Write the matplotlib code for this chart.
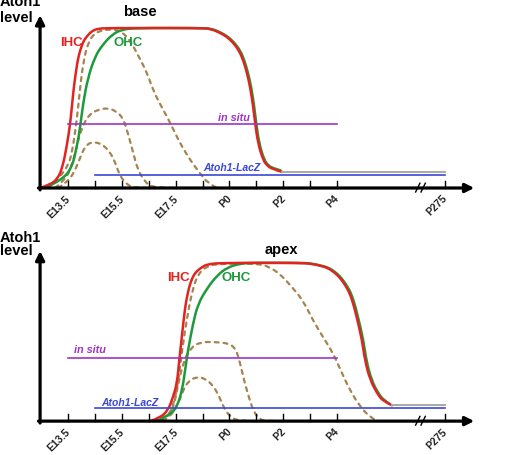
import matplotlib.pyplot as plt
from matplotlib.path import Path
from matplotlib.patches import PathPatch

plt.rcParams['font.family'] = ['Liberation Sans', 'DejaVu Sans']

# x in days from E13.5 (P275 drawn at 14 after the axis break), y = relative Atoh1 level
tick_pos = [0, 1, 2, 3, 4, 5, 6, 7, 8, 9, 10, 14]
tick_labels = {0: "E13.5", 2: "E15.5", 4: "E17.5", 6: "P0", 8: "P2", 10: "P4", 14: "P275"}

insitu_x = [0, 10]
insitu_y = [0.40, 0.40]
lacz_x = [1, 14]
lacz_y = [0.08, 0.08]

# ---- base ----
base_ihc_x = [-1.04, -0.67, -0.37, -0.19, -0.04, 0.07, 0.15, 0.22, 0.33, 0.40, 0.48, 0.58, 0.71,
              0.85, 1.0, 1.15, 1.38, 4.91, 5.3, 5.65, 5.9, 6.13, 6.35, 6.51, 6.65, 6.77, 6.88,
              6.95, 7.06, 7.25, 7.4, 7.58, 7.96]
base_ihc_y = [0, 0.02, 0.06, 0.14, 0.27, 0.39, 0.52, 0.64, 0.77, 0.83, 0.875, 0.92, 0.95,
              0.975, 0.99, 0.995, 1.0, 1.0, 0.995, 0.97, 0.945, 0.91, 0.86, 0.80, 0.72, 0.63, 0.51,
              0.41, 0.28, 0.175, 0.14, 0.12, 0.10]
base_ohc_x = [-0.86, -0.22, 0.15, 0.33, 0.45, 0.56, 0.74, 1.0, 1.26, 1.64, 2.0, 2.49,
              5.0, 5.35, 5.7, 5.95, 6.17, 6.4, 6.55, 6.69, 6.81, 6.92, 6.99, 7.10, 7.29, 7.45,
              7.6, 7.9]
base_ohc_y = [0, 0.05, 0.13, 0.26, 0.38, 0.53, 0.69, 0.82, 0.89, 0.96, 0.99, 1.0,
              1.0, 0.995, 0.97, 0.945, 0.91, 0.86, 0.80, 0.72, 0.63, 0.51, 0.41, 0.28, 0.175,
              0.14, 0.125, 0.11]
base_grey_x = [7.96, 14]
base_grey_y = [0.10, 0.10]
base_dash_big_x = [-0.74, -0.30, 0.0, 0.15, 0.33, 0.45, 0.56, 0.74, 1.0, 1.38, 1.75, 2.0, 2.30,
                   2.57, 2.94, 3.16, 3.53, 3.79, 4.16, 4.54, 4.91, 5.2, 5.54]
base_dash_big_y = [0, 0.07, 0.14, 0.22, 0.43, 0.63, 0.78, 0.91, 0.97, 0.99, 0.99, 0.975, 0.925,
                   0.84, 0.72, 0.61, 0.49, 0.41, 0.28, 0.175, 0.09, 0.03, 0.0]
base_dash_mid_x = [-0.48, -0.11, 0.15, 0.33, 0.52, 0.78, 1.12, 1.49, 1.78, 2.04, 2.23, 2.42,
                   2.60, 2.86, 3.12, 4.2]
base_dash_mid_y = [0, 0.05, 0.14, 0.27, 0.38, 0.46, 0.49, 0.5, 0.48, 0.44, 0.34, 0.22,
                   0.11, 0.04, 0.0, 0.0]
base_dash_small_x = [-0.37, 0.0, 0.26, 0.45, 0.63, 0.89, 1.26, 1.56, 1.75, 1.93, 2.19, 2.49, 3.3]
base_dash_small_y = [0, 0.04, 0.11, 0.19, 0.26, 0.29, 0.275, 0.225, 0.16, 0.075, 0.02, 0.0, 0.0]

# ---- apex ----
apex_ihc_x = [3.05, 3.42, 3.72, 3.90, 4.05, 4.13, 4.24, 4.35, 4.45, 4.54, 4.66, 4.80, 5.0, 5.17,
              5.65, 8.62, 9.0, 9.3, 9.63, 9.9, 10.11, 10.3, 10.48, 10.62, 10.74, 10.93, 11.04,
              11.23, 11.49, 11.71, 12.04]
apex_ihc_y = [0, 0.02, 0.07, 0.15, 0.24, 0.38, 0.55, 0.72, 0.81, 0.87, 0.92, 0.95, 0.975, 0.99,
              1.0, 1.0, 0.995, 0.985, 0.97, 0.94, 0.905, 0.86, 0.805, 0.73, 0.65, 0.51, 0.38,
              0.26, 0.175, 0.125, 0.10]
apex_ohc_x = [3.31, 3.79, 4.05, 4.24, 4.35, 4.46, 4.65, 4.83, 5.17, 5.54, 5.91, 6.39, 6.84,
              8.7, 9.05, 9.35, 9.68, 9.95, 10.16, 10.35, 10.53, 10.67, 10.79, 10.98, 11.09,
              11.28, 11.53, 11.75, 11.95]
apex_ohc_y = [0, 0.04, 0.09, 0.195, 0.32, 0.45, 0.62, 0.74, 0.84, 0.92, 0.97, 0.995, 1.0,
              1.0, 0.995, 0.985, 0.97, 0.94, 0.905, 0.86, 0.805, 0.73, 0.65, 0.51, 0.38, 0.26,
              0.175, 0.13, 0.11]
apex_grey_x = [12.04, 14]
apex_grey_y = [0.10, 0.10]
apex_dash_big_x = [3.16, 3.68, 3.90, 4.09, 4.24, 4.42, 4.61, 4.83, 5.17, 5.65, 7.14, 7.51, 7.88,
                   8.36, 8.74, 9.11, 9.48, 9.85, 10.19, 10.48, 10.86, 11.23, 11.49]
apex_dash_big_y = [0, 0.025, 0.09, 0.24, 0.45, 0.65, 0.82, 0.93, 0.98, 0.995, 0.995, 0.97, 0.93,
                   0.84, 0.76, 0.635, 0.53, 0.43, 0.30, 0.195, 0.09, 0.025, 0]
apex_dash_mid_x = [3.42, 3.72, 3.94, 4.09, 4.28, 4.54, 4.91, 5.46, 6.02, 6.25, 6.39, 6.54,
                   6.73, 6.91, 7.14, 7.36, 8.2]
apex_dash_mid_y = [0, 0.025, 0.10, 0.23, 0.37, 0.46, 0.50, 0.50, 0.49, 0.45, 0.37, 0.26,
                   0.145, 0.055, 0.01, 0, 0]
apex_dash_small_x = [3.53, 3.87, 4.09, 4.28, 4.46, 4.76, 5.09, 5.39, 5.61, 5.80, 6.02, 6.32, 7.0]
apex_dash_small_y = [0, 0.04, 0.11, 0.195, 0.25, 0.28, 0.27, 0.225, 0.16, 0.08, 0.03, 0, 0]

RED = "#e3231f"
GREEN = "#1d9a3c"
BROWN = "#a4844f"
PURPLE = "#a033c4"
BLUE = "#3a48d6"
GREY = "#a8a8a8"


def smooth_line(ax, xs, ys, **kw):
    # quadratic bezier through the read points (points act as control points)
    pts = list(zip(xs, ys))
    verts = [pts[0]]
    codes = [Path.MOVETO]
    for i in range(1, len(pts) - 1):
        nxt = pts[i + 1] if i == len(pts) - 2 else ((pts[i][0] + pts[i + 1][0]) / 2,
                                                     (pts[i][1] + pts[i + 1][1]) / 2)
        verts += [pts[i], nxt]
        codes += [Path.CURVE3, Path.CURVE3]
    ax.add_patch(PathPatch(Path(verts, codes), fill=False, capstyle="round",
                           joinstyle="round", **kw))


def draw_panel(ax, ylim, ytip, curves, grey, texts):
    ax.set_xlim(-2.53, 17.06)
    ax.set_ylim(*ylim)
    ax.axis("off")

    ax.plot(insitu_x, insitu_y, color=PURPLE, lw=1.2)
    ax.plot(lacz_x, lacz_y, color=BLUE, lw=1.2)
    ax.plot(grey[0], grey[1], color=GREY, lw=1.4)

    for cx, cy in curves["dash"]:
        smooth_line(ax, cx, cy, edgecolor=BROWN, lw=1.6, linestyle=(0, (1.8, 2.2)))
    smooth_line(ax, *curves["ohc"], edgecolor=GREEN, lw=1.8)
    smooth_line(ax, *curves["ihc"], edgecolor=RED, lw=1.8)

    # axes with arrows
    arrow = dict(arrowstyle="-|>", lw=2.3, color="black", mutation_scale=13,
                 shrinkA=0, shrinkB=0)
    ax.annotate("", xy=(-1.04, ytip), xytext=(-1.04, -0.012), arrowprops=arrow)
    ax.annotate("", xy=(15.1, 0), xytext=(-1.1, 0), arrowprops=arrow)
    for t in tick_pos:
        ax.plot([t, t], [0, 0.045], color="black", lw=1.0)
        if t in tick_labels:
            ax.text(t + 0.15, -0.035, tick_labels[t], rotation=45, ha="right", va="top",
                    fontsize=7.5, fontweight="bold", color="#222222")
    # axis break
    ax.plot([12.95, 13.15], [-0.025, 0.03], color="white", lw=3)
    for bx in [13.0, 13.2]:
        ax.plot([bx - 0.08, bx + 0.08], [-0.025, 0.03], color="black", lw=1.0)

    for s, x, y, kw in texts:
        ax.text(x, y, s, **kw)


bold = dict(fontweight="bold", ha="center", va="center")
fig = plt.figure(figsize=(5.27, 4.55), dpi=100)

ax_top = fig.add_axes([0, 227 / 455, 1, 228 / 455])
draw_panel(
    ax_top, (-0.25, 1.175), 1.08,
    {"ihc": (base_ihc_x, base_ihc_y), "ohc": (base_ohc_x, base_ohc_y),
     "dash": [(base_dash_big_x, base_dash_big_y), (base_dash_mid_x, base_dash_mid_y),
              (base_dash_small_x, base_dash_small_y)]},
    (base_grey_x, base_grey_y),
    [("Atoh1", -2.53, 1.16, dict(fontsize=10.5, fontweight="bold", ha="left", va="center")),
     ("level", -2.53, 1.065, dict(fontsize=10.5, fontweight="bold", ha="left", va="center")),
     ("base", 2.68, 1.10, dict(fontsize=10.5, **bold)),
     ("IHC", 0.11, 0.906, dict(fontsize=9.5, color=RED, **bold)),
     ("OHC", 2.23, 0.906, dict(fontsize=9.5, color=GREEN, **bold)),
     ("in situ", 6.77, 0.44, dict(fontsize=7.8, color=PURPLE, fontweight="bold",
                                  style="italic", ha="right", va="center")),
     ("Atoh1-LacZ", 6.10, 0.125, dict(fontsize=7.5, color=BLUE, style="italic", **bold))],
)

ax_bot = fig.add_axes([0, 0, 1, 227 / 455])
draw_panel(
    ax_bot, (-0.214, 1.22), 1.075,
    {"ihc": (apex_ihc_x, apex_ihc_y), "ohc": (apex_ohc_x, apex_ohc_y),
     "dash": [(apex_dash_big_x, apex_dash_big_y), (apex_dash_mid_x, apex_dash_mid_y),
              (apex_dash_small_x, apex_dash_small_y)]},
    (apex_grey_x, apex_grey_y),
    [("Atoh1", -2.53, 1.155, dict(fontsize=10.5, fontweight="bold", ha="left", va="center")),
     ("level", -2.53, 1.075, dict(fontsize=10.5, fontweight="bold", ha="left", va="center")),
     ("apex", 7.92, 1.08, dict(fontsize=10.5, **bold)),
     ("IHC", 4.09, 0.906, dict(fontsize=9.5, color=RED, **bold)),
     ("OHC", 6.25, 0.906, dict(fontsize=9.5, color=GREEN, **bold)),
     ("in situ", 0.82, 0.45, dict(fontsize=7.8, color=PURPLE, style="italic", **bold)),
     ("Atoh1-LacZ", 2.30, 0.113, dict(fontsize=7.5, color=BLUE, style="italic", **bold))],
)

fig.savefig("out.png", dpi=100)
